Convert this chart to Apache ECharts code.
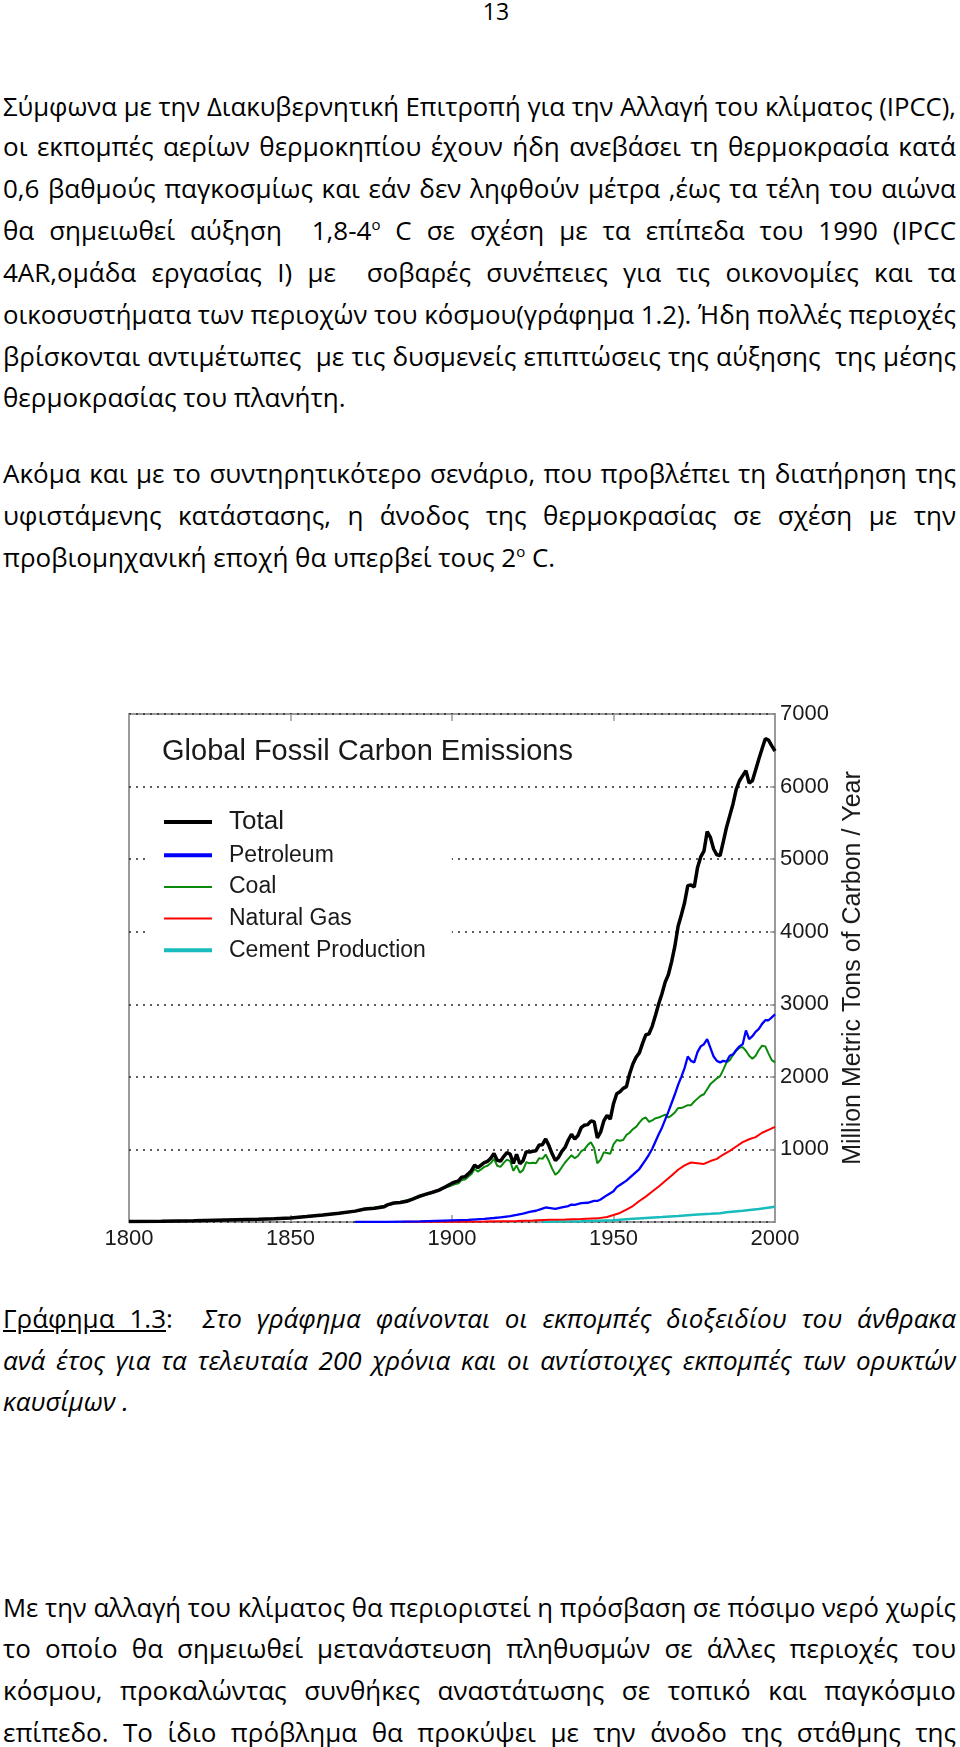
<!DOCTYPE html>
<html>
<head>
<meta charset="utf-8">
<script src="https://cdn.jsdelivr.net/npm/echarts@6/dist/echarts.min.js"></script>
<style>
  html, body { margin:0; padding:0; background:#fff; }
  body { width:960px; height:1747px; position:relative; overflow:hidden; }
  .ln { position:absolute; left:3px; height:30px; line-height:30px; font-family:"Open Sans","Noto Sans",sans-serif; font-size:26px; color:#000; white-space:pre; }
  .ln span.inner { display:inline-block; transform-origin:0 50%; }
  .ln sup { font-size:15px; position:relative; top:-10px; vertical-align:baseline; line-height:0; }
  #chart { position:absolute; left:0; top:680px; width:960px; height:590px; }
</style>
</head>
<body>
<div id="chart"></div>
<script>
// ---------- data ----------
const xTicks = [1800, 1850, 1900, 1950, 2000];
const yTicks = [0, 1000, 2000, 3000, 4000, 5000, 6000, 7000];
const seriesNames = ['Total', 'Petroleum', 'Coal', 'Natural Gas', 'Cement Production'];

const totalYears = [1800,1810,1820,1830,1840,1845,1850,1855,1860,1865,1870,1873,1876,1879,1880,1882,1884,1886,1888,1890,1892,1894,1896,1898,
  1900,1901,1902,1903,1904,1905,1906,1907,1908,1909,1910,1911,1912,1913,1914,1915,1916,1917,1918,1919,1920,1921,1922,1923,1924,1925,1926,1927,1928,1929,
  1930,1931,1932,1933,1934,1935,1936,1937,1938,1939,1940,1941,1942,1943,1944,1945,1946,1947,1948,1949,1950,1951,1952,1953,1954,1955,1956,1957,1958,1959,
  1960,1961,1962,1963,1964,1965,1966,1967,1968,1969,1970,1971,1972,1973,1974,1975,1976,1977,1978,1979,1980,1981,1982,1983,1984,1985,1986,1987,1988,1989,
  1990,1991,1992,1993,1994,1995,1996,1997,1998,1999,2000];
const totalValues = [8,12,18,28,38,46,56,75,95,120,150,180,190,210,236,262,268,285,320,356,385,410,440,485,
  534,552,566,617,624,663,707,784,750,785,819,836,879,943,850,838,901,955,936,806,932,803,845,970,963,975,983,1062,1065,1145,
  1053,940,847,893,973,1027,1130,1209,1142,1192,1299,1334,1342,1391,1383,1160,1238,1392,1469,1419,1630,1767,1795,1841,1865,2043,2178,2270,2330,2462,
  2577,2594,2700,2848,3008,3145,3305,3411,3588,3800,4076,4231,4399,4635,4644,4615,4880,5030,5110,5380,5300,5140,5060,5050,5240,5440,5600,5760,5960,6080,
  6150,6220,6050,6080,6230,6380,6520,6660,6640,6560,6490];

const petroleumYears = [1870,1880,1890,1900,1905,1910,1913,1915,1918,1920,1922,1924,1926,1928,1929,1930,1932,1934,1936,1937,1938,1940,1942,1944,1945,1946,1948,
  1950,1951,1952,1954,1956,1958,1960,1961,1962,1963,1964,1965,1966,1967,1968,1969,1970,1971,1972,1973,1974,1975,1976,1977,1978,1979,
  1980,1981,1982,1983,1984,1985,1986,1987,1988,1989,1990,1991,1992,1993,1994,1995,1996,1997,1998,1999,2000];
const petroleumValues = [1,3,8,23,30,44,55,65,80,97,115,140,155,185,200,195,180,200,220,240,235,260,265,290,290,310,370,
  423,480,510,570,650,730,860,930,1010,1110,1210,1300,1410,1520,1640,1760,1890,2000,2120,2280,2220,2200,2340,2420,2450,2520,
  2400,2280,2220,2200,2220,2210,2290,2310,2370,2420,2450,2640,2520,2560,2620,2660,2730,2780,2780,2820,2860];

const coalYears = [1800,1810,1820,1830,1840,1850,1860,1870,1880,1890,
  1900,1901,1902,1903,1904,1905,1906,1907,1908,1909,1910,1911,1912,1913,1914,1915,1916,1917,1918,1919,1920,1921,1922,1923,1924,1925,1926,1927,1928,1929,
  1930,1931,1932,1933,1934,1935,1936,1937,1938,1939,1940,1941,1942,1943,1944,1945,1946,1947,1948,1949,1950,1951,1952,1953,1954,1955,1956,1957,1958,1959,
  1960,1961,1962,1963,1964,1965,1966,1967,1968,1969,1970,1971,1972,1973,1974,1975,1976,1977,1978,1979,1980,1981,1982,1983,1984,1985,1986,1987,1988,1989,
  1990,1991,1992,1993,1994,1995,1996,1997,1998,1999,2000];
const coalValues = [8,12,18,28,38,55,94,148,232,345,
  507,522,535,580,585,622,660,730,695,725,760,775,812,870,775,760,815,860,840,705,780,680,715,825,810,815,810,880,870,930,
  840,735,650,690,755,820,870,920,880,910,975,1000,1060,1100,1020,810,860,960,950,940,1070,1130,1120,1130,1200,1230,1280,1310,1370,1420,
  1440,1380,1400,1430,1440,1460,1480,1440,1470,1510,1570,1570,1590,1610,1610,1660,1700,1740,1760,1830,1900,1940,1980,2010,2100,2200,2230,2300,2360,2400,
  2410,2360,2290,2250,2290,2370,2430,2420,2320,2230,2200];

const gasYears = [1885,1900,1910,1920,1925,1930,1935,1940,1945,1948,1950,1952,1954,1956,1958,1960,1962,1964,1966,1968,1970,1972,1974,1976,1978,
  1980,1982,1984,1986,1988,1990,1992,1994,1996,1998,2000];
const gasValues = [2,4,8,15,22,30,35,42,50,70,97,125,170,220,290,350,420,490,565,640,720,780,820,810,800,
  840,870,930,980,1040,1100,1140,1170,1230,1270,1310];

const cementYears = [1928,1940,1950,1955,1960,1965,1970,1975,1980,1983,1985,1990,1995,2000];
const cementValues = [5,10,25,40,55,68,82,100,112,121,135,155,180,210];

// ---------- page text ----------
const SUP = '<sup>ο</sup>';
const textLines = [
  // [html, centerY, justify]
  ['Σύμφωνα με την Διακυβερνητική Επιτροπή για την Αλλαγή του κλίματος (IPCC),', 106, true],
  ['οι εκπομπές αερίων θερμοκηπίου έχουν ήδη ανεβάσει τη θερμοκρασία κατά', 146, true],
  ['0,6 βαθμούς παγκοσμίως και εάν δεν ληφθούν μέτρα ,έως τα τέλη του αιώνα', 188, true],
  ['θα σημειωθεί αύξηση  1,8-4' + SUP + ' C σε σχέση με τα επίπεδα του 1990 (IPCC', 230, true],
  ['4AR,ομάδα εργασίας Ι) με  σοβαρές συνέπειες για τις οικονομίες και τα', 272, true],
  ['οικοσυστήματα των περιοχών του κόσμου(γράφημα 1.2). Ήδη πολλές περιοχές', 314, true],
  ['βρίσκονται αντιμέτωπες  με τις δυσμενείς επιπτώσεις της αύξησης  της μέσης', 356, true],
  ['θερμοκρασίας του πλανήτη.', 397, false],
  ['Ακόμα και με το συντηρητικότερο σενάριο, που προβλέπει τη διατήρηση της', 473, true],
  ['υφιστάμενης κατάστασης, η άνοδος της θερμοκρασίας σε σχέση με την', 515, true],
  ['προβιομηχανική εποχή θα υπερβεί τους 2' + SUP + ' C.', 557, false],
  ['<span style="text-decoration:underline">Γράφημα 1.3</span>:  <i>Στο γράφημα φαίνονται οι εκπομπές διοξειδίου του άνθρακα</i>', 1318, true],
  ['<i>ανά έτος για τα τελευταία 200 χρόνια και οι αντίστοιχες εκπομπές των ορυκτών</i>', 1360, true],
  ['<i>καυσίμων .</i>', 1401, false],
  ['Με την αλλαγή του κλίματος θα περιοριστεί η πρόσβαση σε πόσιμο νερό χωρίς', 1607, true],
  ['το οποίο θα σημειωθεί μετανάστευση πληθυσμών σε άλλες περιοχές του', 1648, true],
  ['κόσμου, προκαλώντας συνθήκες αναστάτωσης σε τοπικό και παγκόσμιο', 1690, true],
  ['επίπεδο. Το ίδιο πρόβλημα θα προκύψει με την άνοδο της στάθμης της', 1732, true]
];

const LINE_W = 953;
function addLine(html, cy, justify) {
  const d = document.createElement('div');
  d.className = 'ln';
  d.style.top = (cy - 15) + 'px';
  const s = document.createElement('span');
  s.className = 'inner';
  s.innerHTML = html;
  d.appendChild(s);
  document.body.appendChild(d);
  const w = s.getBoundingClientRect().width;
  if (w > LINE_W) {
    s.style.transform = 'scaleX(' + (LINE_W / w) + ')';
  } else if (justify) {
    const spaces = (s.textContent.match(/ /g) || []).length;
    if (spaces > 0) s.style.wordSpacing = ((LINE_W - w) / spaces) + 'px';
  }
}
const pg = document.createElement('div');
pg.className = 'ln';
pg.style.top = (11 - 15) + 'px';
pg.style.left = '0px';
pg.style.width = '992px';
pg.style.textAlign = 'center';
pg.style.fontSize = '23px';
pg.textContent = '13';
document.body.appendChild(pg);
textLines.forEach(l => addLine(l[0], l[1], l[2]));

// ---------- chart ----------
function pairs(xs, ys) { return xs.map((x, i) => [x, ys[i]]); }
const colors = { 'Total': '#000000', 'Petroleum': '#0000ff', 'Coal': '#0a8a0a', 'Natural Gas': '#ff0000', 'Cement Production': '#19bcbc' };
const chart = echarts.init(document.getElementById('chart'), null, { renderer: 'canvas' });
const FONT = '"Liberation Sans", Arial, sans-serif';
const gridColor = '#9a9a9a';
const option = {
  animation: false,
  backgroundColor: 'transparent',
  title: {
    text: 'Global Fossil Carbon Emissions',
    left: 162, top: 56, padding: 0,
    textStyle: { fontFamily: FONT, fontSize: 29, fontWeight: 'normal', color: '#1a1a1a', lineHeight: 32 }
  },
  legend: {
    orient: 'vertical',
    left: 149, top: 125,
    padding: [4, 26, 21, 13],
    backgroundColor: '#ffffff',
    itemWidth: 48, itemHeight: 14,
    itemGap: 8.7,
    itemStyle: { opacity: 0, borderWidth: 0 },
    textStyle: { fontFamily: FONT, fontSize: 23, lineHeight: 23, color: '#1a1a1a', padding: [0, 0, 0, 12] },
    data: [
      { name: 'Total', textStyle: { fontSize: 26, lineHeight: 26 }, lineStyle: { width: 4 } },
      { name: 'Petroleum', lineStyle: { width: 4 } },
      { name: 'Coal', lineStyle: { width: 2 } },
      { name: 'Natural Gas', lineStyle: { width: 2 } },
      { name: 'Cement Production', lineStyle: { width: 4 } }
    ]
  },
  grid: { left: 129, right: 185, top: 34, bottom: 48, show: true, borderColor: gridColor, borderWidth: 2, backgroundColor: 'transparent' },
  xAxis: [
    {
      type: 'value', min: xTicks[0], max: xTicks[xTicks.length - 1], interval: 50, position: 'bottom',
      axisLine: { show: false },
      axisTick: { show: true, inside: true, length: 7, lineStyle: { color: gridColor, width: 1.5 } },
      axisLabel: { fontFamily: FONT, fontSize: 22, color: '#1a1a1a', margin: 6, formatter: v => String(v) },
      splitLine: { show: false }
    },
    {
      type: 'value', min: xTicks[0], max: xTicks[xTicks.length - 1], interval: 50, position: 'top',
      axisLine: { show: false },
      axisTick: { show: true, inside: true, length: 7, lineStyle: { color: gridColor, width: 1.5 } },
      axisLabel: { show: false },
      splitLine: { show: false }
    }
  ],
  yAxis: {
    type: 'value', position: 'right', min: yTicks[0], max: yTicks[yTicks.length - 1], interval: 1000,
    name: 'Million Metric Tons of Carbon / Year',
    nameLocation: 'middle', nameRotate: 90, nameGap: 66,
    nameTextStyle: { fontFamily: FONT, fontSize: 25, color: '#1a1a1a' },
    axisLine: { show: false },
    axisTick: { show: true, inside: true, length: 5, lineStyle: { color: gridColor, width: 1.5 } },
    axisLabel: { fontFamily: FONT, fontSize: 22, color: '#1a1a1a', margin: 5, formatter: v => (v === 0 ? '' : String(v)) },
    splitLine: { show: true, lineStyle: { color: '#2a2a2a', width: 1.5, type: [2, 5] } }
  },
  series: [
    { name: 'Cement Production', data: pairs(cementYears, cementValues), width: 2.5 },
    { name: 'Natural Gas', data: pairs(gasYears, gasValues), width: 2 },
    { name: 'Coal', data: pairs(coalYears, coalValues), width: 2 },
    { name: 'Petroleum', data: pairs(petroleumYears, petroleumValues), width: 2.3 },
    { name: 'Total', data: pairs(totalYears, totalValues), width: 3.5 }
  ].map(s => ({
    name: s.name, type: 'line', data: s.data, symbol: 'none', showSymbol: false,
    lineStyle: { color: colors[s.name], width: s.width },
    itemStyle: { color: colors[s.name] },
    emphasis: { disabled: true }
  }))
};
chart.setOption(option);
</script>
</body>
</html>
